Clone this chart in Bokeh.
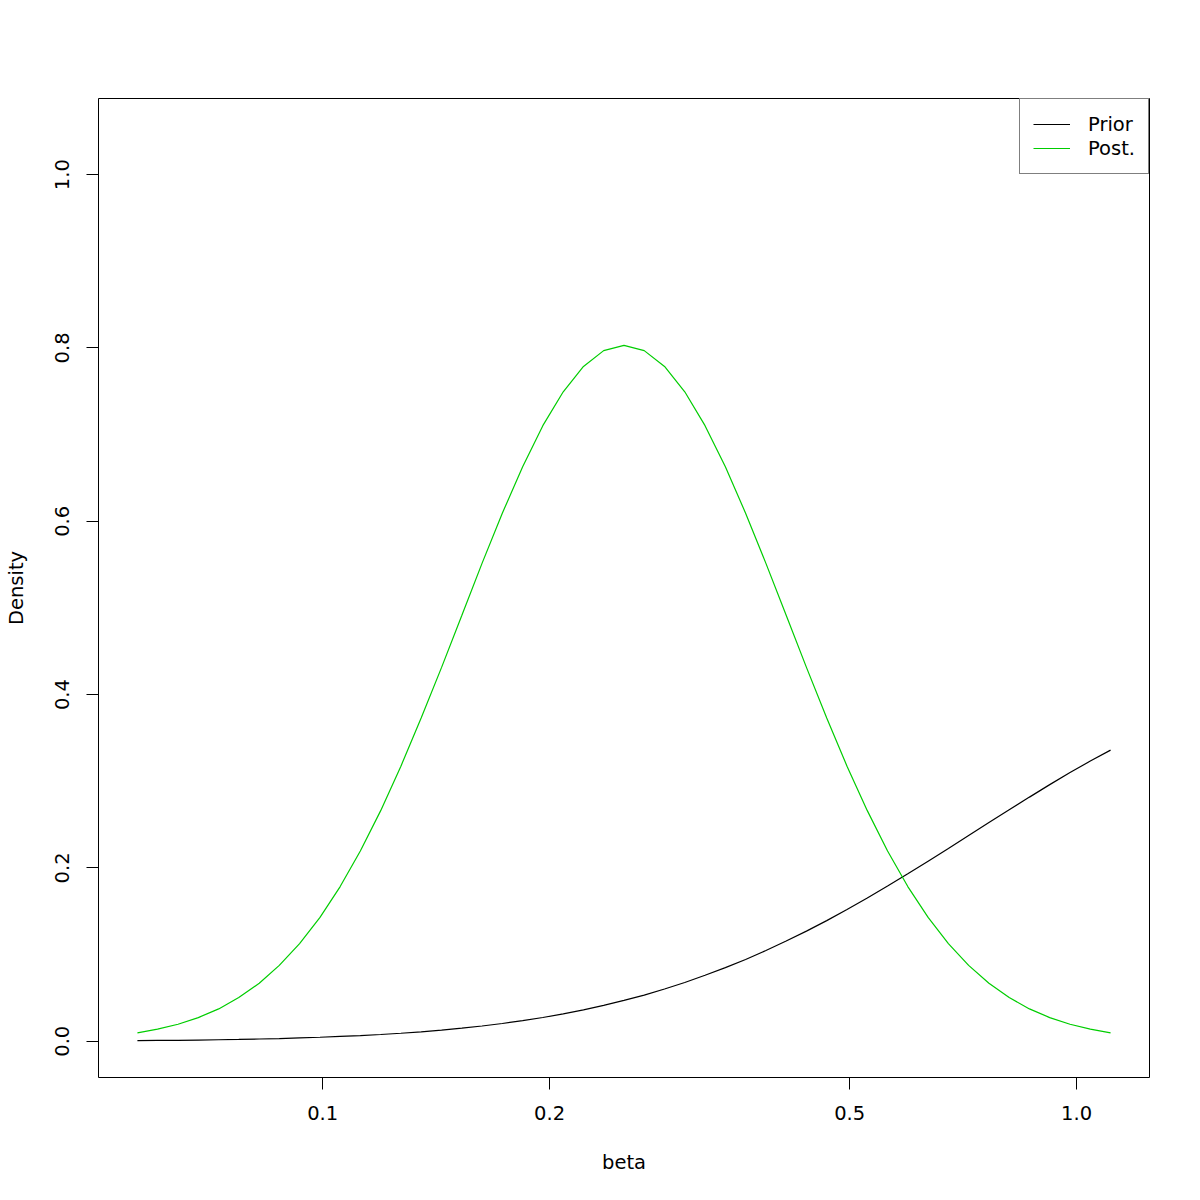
from bokeh.plotting import figure
from bokeh.models import Range1d, FixedTicker, PrintfTickFormatter
from bokeh.embed import file_html
from bokeh.resources import INLINE
import math

# ---- data (beta on a log axis) ----
beta = [0.0568, 0.0604, 0.0643, 0.0684, 0.0728, 0.0774, 0.0824, 0.0876,
        0.0932, 0.0992, 0.1055, 0.1122, 0.1194, 0.1270, 0.1351, 0.1438,
        0.1530, 0.1627, 0.1731, 0.1842, 0.1959, 0.2085, 0.2218, 0.2359,
        0.2510,
        0.2670, 0.2841, 0.3022, 0.3215, 0.3421, 0.3639, 0.3872, 0.4119,
        0.4382, 0.4662, 0.4960, 0.5277, 0.5614, 0.5972, 0.6354, 0.6760,
        0.7191, 0.7651, 0.8139, 0.8659, 0.9212, 0.9801, 1.0427, 1.1093]

posterior = [0.0097, 0.0139, 0.0196, 0.0273, 0.0373, 0.0504, 0.0669, 0.0875,
             0.1127, 0.1429, 0.1785, 0.2196, 0.2661, 0.3174, 0.3729, 0.4314,
             0.4915, 0.5514, 0.6093, 0.6629, 0.7103, 0.7494, 0.7787, 0.7969,
             0.8030,
             0.7969, 0.7787, 0.7494, 0.7103, 0.6629, 0.6093, 0.5514, 0.4915,
             0.4314, 0.3729, 0.3174, 0.2661, 0.2196, 0.1785, 0.1429, 0.1127,
             0.0875, 0.0669, 0.0504, 0.0373, 0.0273, 0.0196, 0.0139, 0.0097]

prior = [0.0007, 0.0009, 0.0011, 0.0014, 0.0017, 0.0021, 0.0026, 0.0031,
         0.0038, 0.0046, 0.0055, 0.0065, 0.0078, 0.0092, 0.0109, 0.0128,
         0.0151, 0.0176, 0.0205, 0.0238, 0.0274, 0.0316, 0.0362, 0.0414,
         0.0471,
         0.0533, 0.0603, 0.0678, 0.0761, 0.0849, 0.0944, 0.1047, 0.1156,
         0.1271, 0.1392, 0.1520, 0.1653, 0.1791, 0.1932, 0.2077, 0.2223,
         0.2374, 0.2523, 0.2671, 0.2817, 0.2961, 0.3100, 0.3233, 0.3359]

x_ticks = [0.1, 0.2, 0.5, 1.0]
y_ticks = [0.0, 0.2, 0.4, 0.6, 0.8, 1.0]
y_lim_top = 1.046

FONT = "DejaVu Sans"
FS = "19.5px"
GREEN = "#00CD00"

# axis ranges (R style 4% extension)
lo = math.log10(min(beta))
hi = math.log10(max(beta))
ext = 0.04 * (hi - lo)
x_range = Range1d(10 ** (lo - ext), 10 ** (hi + ext))
y_range = Range1d(-0.04 * y_lim_top, 1.04 * y_lim_top)

p = figure(width=1196, height=1196, x_axis_type="log",
           x_range=x_range, y_range=y_range,
           output_backend="svg", toolbar_location=None,
           min_border_left=98, min_border_top=98,
           min_border_right=47, min_border_bottom=119,
           x_axis_label="beta", y_axis_label="Density")

p.line(beta, prior, line_color="black", line_width=1.2, legend_label="Prior")
p.line(beta, posterior, line_color=GREEN, line_width=1.2, legend_label="Post.")

p.grid.visible = False
p.outline_line_color = "black"
p.outline_line_width = 1
p.background_fill_color = "white"
p.border_fill_color = "white"

for ax in (p.xaxis[0], p.yaxis[0]):
    ax.axis_line_color = None
    ax.major_tick_line_color = "black"
    ax.major_tick_out = 12
    ax.major_tick_in = 0
    ax.minor_tick_line_color = None
    ax.major_label_text_font = FONT
    ax.major_label_text_font_size = FS
    ax.major_label_text_color = "black"
    ax.major_label_text_font_style = "normal"
    ax.axis_label_text_font = FONT
    ax.axis_label_text_font_size = FS
    ax.axis_label_text_font_style = "normal"
    ax.axis_label_text_color = "black"

p.xaxis[0].ticker = FixedTicker(ticks=x_ticks)
p.xaxis[0].formatter = PrintfTickFormatter(format="%.1f")
p.xaxis[0].major_label_standoff = 16
p.xaxis[0].axis_label_standoff = 28

p.yaxis[0].ticker = FixedTicker(ticks=y_ticks)
p.yaxis[0].formatter = PrintfTickFormatter(format="%.1f")
p.yaxis[0].major_label_orientation = "vertical"
p.yaxis[0].major_label_standoff = 17
p.yaxis[0].axis_label_standoff = 25

lg = p.legend[0]
lg.location = "top_right"
lg.margin = 0
lg.padding = 13
lg.spacing = 0
lg.border_line_color = "black"
lg.border_line_width = 1
lg.background_fill_color = "white"
lg.background_fill_alpha = 1
lg.label_text_font = FONT
lg.label_text_font_size = FS
lg.label_text_color = "black"
lg.label_height = 24
lg.glyph_height = 24
lg.glyph_width = 37
lg.label_standoff = 18

open("out.html", "w").write(file_html(p, INLINE))
